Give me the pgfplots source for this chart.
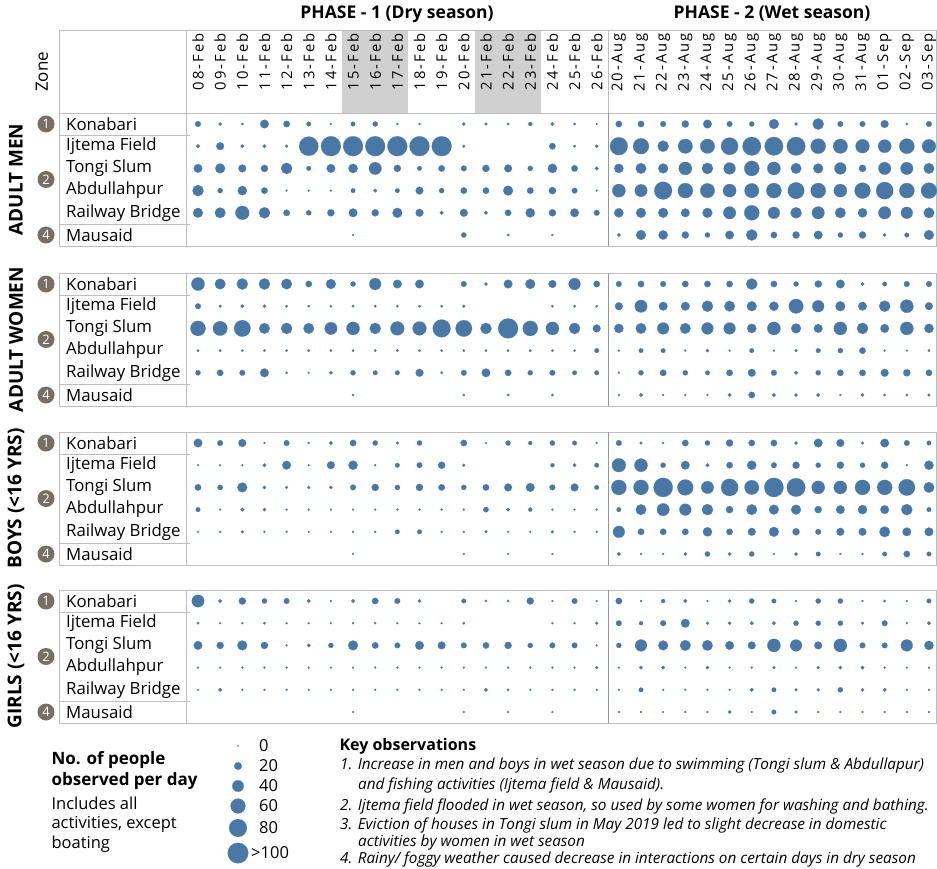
\documentclass[border=0pt]{standalone}
\usepackage{fontspec}
\setmainfont{Open Sans}
\newfontfamily\datefont[LetterSpace=14]{Open Sans}
\usepackage{pgfplots}
\usepackage{pgfplotstable}
\pgfplotsset{compat=1.18}
\definecolor{bub}{HTML}{4A78A6}
\definecolor{zonec}{HTML}{776E66}
\definecolor{gridc}{HTML}{BDBDBD}
\definecolor{shadec}{HTML}{D0D0D0}

% columns: j = day index (0-18: 08-Feb..26-Feb, 19-33: 20-Aug..03-Sep)
% K Konabari, I Ijtema Field, T Tongi Slum, A Abdullahpur, R Railway Bridge, M Mausaid
\pgfplotstableread{
j K I T A R M
0 12 5 25 38 31 nan
1 4 21 31 10 35 nan
2 2 5 21 28 54 nan
3 25 5 18 15 38 nan
4 15 3 38 1 15 nan
5 8 90 8 1 10 nan
6 1 95 25 1 18 nan
7 8 95 28 8 25 1
8 10 95 46 5 18 nan
9 1 95 18 8 31 nan
10 1 95 8 21 21 nan
11 nan 95 15 10 5 nan
12 4 3 12 15 21 10
13 3 nan 18 15 5 nan
14 2 nan 21 31 15 2
15 6 nan 10 15 28 nan
16 5 15 28 18 18 1
17 2 2 15 12 25 nan
18 1 4 5 1 12 nan
19 15 80 28 50 28 5
20 15 67 35 46 31 31
21 12 38 31 80 31 28
22 18 58 50 62 25 18
23 25 58 38 58 31 10
24 12 76 42 50 46 25
25 10 85 62 58 62 38
26 31 85 50 62 42 15
27 4 85 35 71 38 18
28 38 62 31 62 46 25
29 12 58 42 50 35 10
30 12 54 18 67 28 18
31 21 50 46 76 46 4
32 2 62 46 62 42 8
33 12 54 35 67 35 31
}\men

\pgfplotstableread{
j K I T A R M
0 50 12 62 2 10 nan
1 35 3 58 2 15 nan
2 38 5 71 2 12 nan
3 38 4 35 2 25 nan
4 35 2 38 2 2 nan
5 15 2 35 2 1 nan
6 31 2 46 2 4 nan
7 10 2 50 2 10 2
8 42 2 38 2 8 nan
9 25 2 54 2 8 nan
10 25 2 54 2 21 nan
11 nan 2 80 2 2 nan
12 12 3 71 2 12 2
13 4 nan 38 2 25 nan
14 25 nan 95 2 15 2
15 31 nan 62 2 10 nan
16 21 2 50 2 12 2
17 42 2 38 2 8 nan
18 15 2 21 8 8 nan
19 12 21 28 1 1 1
20 15 46 35 8 10 5
21 12 25 42 8 15 1
22 15 25 35 1 10 1
23 15 38 42 4 8 1
24 15 35 42 1 15 5
25 38 31 28 8 21 15
26 15 28 50 1 12 5
27 10 58 31 3 5 4
28 18 42 25 8 10 5
29 25 31 50 10 15 1
30 5 25 38 15 15 4
31 8 38 25 1 21 2
32 12 50 50 1 18 2
33 12 21 28 2 15 3
}\women

\pgfplotstableread{
j K I T A R M
0 25 1 15 8 1 nan
1 12 1 11 1 1 nan
2 21 1 31 5 3 nan
3 1 5 4 4 1 nan
4 12 25 3 1 1 nan
5 1 1 3 1 1 nan
6 5 21 4 1 1 nan
7 15 28 12 1 1 1
8 10 1 18 1 1 nan
9 3 8 10 1 8 nan
10 10 12 18 1 8 nan
11 nan 18 15 1 1 nan
12 15 3 10 1 1 1
13 1 nan 15 11 3 nan
14 10 nan 21 5 1 1
15 6 nan 25 6 1 nan
16 10 6 12 1 3 1
17 8 5 21 1 1 nan
18 1 8 8 1 1 nan
19 12 54 62 8 42 5
20 3 50 62 35 15 1
21 1 10 90 46 15 1
22 15 25 67 42 15 4
23 10 5 46 38 28 10
24 18 15 76 18 15 5
25 15 28 58 35 21 10
26 15 12 90 31 31 1
27 4 18 85 31 18 4
28 25 10 50 18 12 8
29 21 18 50 25 21 1
30 3 10 62 28 21 1
31 25 18 62 25 35 8
32 12 1 71 38 25 15
33 8 28 35 8 25 8
}\boys

\pgfplotstableread{
j K I T A R M
0 46 2 25 1 1 nan
1 5 1 18 1 5 nan
2 18 1 31 1 1 nan
3 10 2 18 1 1 nan
4 12 1 1 1 1 nan
5 5 1 5 1 1 nan
6 1 1 10 1 1 nan
7 5 1 31 1 1 1
8 15 1 15 1 1 nan
9 12 1 12 1 1 nan
10 4 1 25 1 1 nan
11 nan 1 21 1 1 nan
12 8 2 12 1 1 1
13 2 nan 15 1 5 nan
14 2 nan 18 1 2 1
15 18 nan 10 1 1 nan
16 1 1 12 1 1 1
17 12 1 12 1 1 nan
18 1 3 1 3 1 nan
19 15 12 10 1 1 1
20 1 6 42 5 8 1
21 6 12 31 5 1 1
22 5 25 35 1 1 1
23 1 3 35 4 1 1
24 4 4 25 1 1 5
25 10 5 21 1 5 1
26 8 5 50 3 8 8
27 1 10 42 1 3 3
28 10 10 21 3 3 1
29 10 10 50 4 10 1
30 1 3 12 5 4 1
31 2 12 12 1 5 1
32 1 1 42 1 1 1
33 8 5 28 1 1 1
}\girls

\pgfplotsset{
  bubbase/.style={only marks, scatter, mark=*,
    mark options={draw=bub,fill=bub,line width=0.2pt},
    scatter/use mapped color={draw=bub,fill=bub},
    scatter/@pre marker code/.append style={/tikz/mark size={0.65+0.3825*pow(max(\vv,0.01),0.7)}}},
  bub/.style 2 args={bubbase,
    /pgfplots/table/x expr={198+22.15*\thisrow{j}},
    /pgfplots/table/y expr={\thisrow{#1}*0+#2},
    visualization depends on={\thisrow{#1} \as \vv}},
}

\begin{document}
\begin{tikzpicture}
\useasboundingbox (0,0) rectangle (937pt,-869pt);
\begin{scope}[x=1pt,y=-1pt,line width=0.8pt]
  \fill[shadec] (342,30) rectangle (408.4,113);
  \fill[shadec] (474.9,30) rectangle (541.3,113);
  \draw[gridc] (59,30) rectangle (936.5,113);
  \draw[gridc] (186,30) -- (186,113);
  \draw[gridc] (608,30) -- (608,113);
  \foreach \b in {124,284,443,601} {
    \draw[gridc] (59,\b-11) rectangle (936.5,\b+122);
    \draw[gridc] (186,\b-11) -- (186,\b+122);
    \draw[gridc!80!black] (608,\b-11) -- (608,\b+122);
    \draw[gridc] (59,\b+11) -- (190,\b+11);
    \draw[gridc] (59,\b+100) -- (190,\b+100);
  }
\end{scope}

\begin{axis}[at={(0,0)}, anchor=north west, width=937pt, height=869pt, scale only axis,
  xmin=0, xmax=937, ymin=0, ymax=869, y dir=reverse, hide axis, clip=false]
% Adult men
\addplot[bub={K}{124}] table {\men};
\addplot[bub={I}{146.2}] table {\men};
\addplot[bub={T}{168.4}] table {\men};
\addplot[bub={A}{190.6}] table {\men};
\addplot[bub={R}{212.8}] table {\men};
\addplot[bub={M}{235}] table {\men};
% Adult women
\addplot[bub={K}{284}] table {\women};
\addplot[bub={I}{306.2}] table {\women};
\addplot[bub={T}{328.4}] table {\women};
\addplot[bub={A}{350.6}] table {\women};
\addplot[bub={R}{372.8}] table {\women};
\addplot[bub={M}{395}] table {\women};
% Boys
\addplot[bub={K}{443}] table {\boys};
\addplot[bub={I}{465.2}] table {\boys};
\addplot[bub={T}{487.4}] table {\boys};
\addplot[bub={A}{509.6}] table {\boys};
\addplot[bub={R}{531.8}] table {\boys};
\addplot[bub={M}{554}] table {\boys};
% Girls
\addplot[bub={K}{601}] table {\girls};
\addplot[bub={I}{623.2}] table {\girls};
\addplot[bub={T}{645.4}] table {\girls};
\addplot[bub={A}{667.6}] table {\girls};
\addplot[bub={R}{689.8}] table {\girls};
\addplot[bub={M}{712}] table {\girls};
% size legend
\addplot[bubbase, visualization depends on={\thisrow{v} \as \vv}] table[x=x,y=y] {
x y v
238 746 0
238 766 20
238 786 40
238 806 60
238 828 80
238 853 100
};
\end{axis}

\begin{scope}[x=1pt,y=-1pt]
  \node[font=\bfseries\fontsize{17.5}{20}\selectfont] at (397,14) {PHASE - 1 (Dry season)};
  \node[font=\bfseries\fontsize{17.5}{20}\selectfont] at (772,14) {PHASE - 2 (Wet season)};
  \node[rotate=90,font=\fontsize{17}{20}\selectfont] at (42,72) {Zone};
  \foreach \lab [count=\i from 0] in {08-Feb,09-Feb,10-Feb,11-Feb,12-Feb,13-Feb,14-Feb,15-Feb,16-Feb,17-Feb,18-Feb,19-Feb,20-Feb,21-Feb,22-Feb,23-Feb,24-Feb,25-Feb,26-Feb,20-Aug,21-Aug,22-Aug,23-Aug,24-Aug,25-Aug,26-Aug,27-Aug,28-Aug,29-Aug,30-Aug,31-Aug,01-Sep,02-Sep,03-Sep}
    \node[rotate=90,anchor=east,inner sep=0pt,font=\datefont\fontsize{14.8}{15}\selectfont] at ({198+22.15*\i},33) {\lab};
  \foreach \b/\g in {124/ADULT MEN,284/ADULT WOMEN,443/BOYS (<16 YRS),601/GIRLS (<16 YRS)} {
    \node[rotate=90,font=\bfseries\fontsize{19}{20}\selectfont] at (16,\b+55.5) {\g};
    \fill[zonec] (46,\b) circle (8.5);
    \fill[zonec] (46,\b+55.5) circle (8.5);
    \fill[zonec] (46,\b+111) circle (8.5);
    \node[white,font=\fontsize{13}{13}\selectfont] at (46,\b) {1};
    \node[white,font=\fontsize{13}{13}\selectfont] at (46,\b+55.5) {2};
    \node[white,font=\fontsize{13}{13}\selectfont] at (46,\b+111) {4};
    \foreach \r/\n in {0/Konabari,1/Ijtema Field,2/Tongi Slum,3/Abdullahpur,4/Railway Bridge,5/Mausaid}
      \node[anchor=west,inner sep=0pt,font=\fontsize{16.8}{18}\selectfont] at (66,\b+22.2*\r) {\n};
  }
  % legend
  \node[anchor=west,align=left,font=\bfseries\fontsize{17}{21}\selectfont] at (48,771) {No. of people\\observed per day};
  \node[anchor=north west,align=left,font=\fontsize{16.5}{19.5}\selectfont] at (48,793) {Includes all\\activities, except\\boating};
  \foreach \yy/\t in {746/0,766/20,786/40,806/60,828/80}
    \node[anchor=west,inner sep=0pt,font=\fontsize{16.5}{18}\selectfont] at (259,\yy) {\t};
  \node[anchor=west,inner sep=0pt,font=\fontsize{16.5}{18}\selectfont] at (251,853) {>100};
  \node[anchor=west,font=\bfseries\fontsize{16}{18}\selectfont] at (336,746) {Key observations};
  \begin{scope}[every node/.style={anchor=west,inner sep=0pt,font=\itshape\fontsize{15.3}{16}\selectfont}]
    \node at (340,766) {1. Increase in men and boys in wet season due to swimming (Tongi slum \& Abdullapur)};
    \node at (358,785) {and fishing activities (Ijtema field \& Mausaid).};
    \node at (340,806) {2. Ijtema field flooded in wet season, so used by some women for washing and bathing.};
    \node at (340,825) {3. Eviction of houses in Tongi slum in May 2019 led to slight decrease in domestic};
    \node at (358,843) {activities by women in wet season};
    \node at (340,859) {4. Rainy/ foggy weather caused decrease in interactions on certain days in dry season};
  \end{scope}
\end{scope}
\end{tikzpicture}
\end{document}
